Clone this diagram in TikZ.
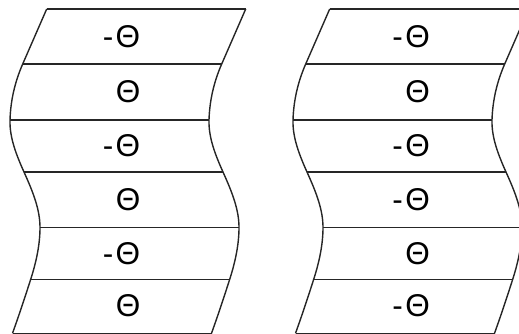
\documentclass[tikz,border=0pt]{standalone}
\usepackage{fontspec}
\setmainfont{Liberation Sans}
\begin{document}
\begin{tikzpicture}[x=1pt,y=-1pt,
  edge/.style={line width=1.4pt, draw=black!85},
  lbl/.style={font=\fontsize{31.5}{31.5}\selectfont, inner sep=0pt, text=black}]
\useasboundingbox (0,0) rectangle (519,333);
\clip (0,0) rectangle (519,333);
\newcommand{\sidecurve}{%
  \draw[edge] (46.7,9) -- (22.7,64)
    .. controls (14.56,82.67) and (10.56,101.3) .. (10,120)
    .. controls (9.48,137.33) and (16.2,154.67) .. (24,172)
    .. controls (32.3,190.43) and (40,208.87) .. (40,227.3)
    .. controls (40,244.6) and (36.25,262) .. (30.7,279.3)
    .. controls (24.94,297.3) and (18.98,315.3) .. (12.5,333.3);}
\foreach \fig/\dx in {A/0, B/283} {
  \begin{scope}[xshift=\dx]
    \foreach \i/\x/\y in {1/46.7/9, 2/22.7/64, 3/10/120, 4/24/172, 5/40/227.3, 6/30.7/279.3, 7/12.5/333.3} {
      \coordinate (\fig L\i) at (\x,\y);
      \coordinate (\fig R\i) at (\x+199,\y);
    }
    \sidecurve
    \begin{scope}[xshift=199]
      \sidecurve
    \end{scope}
    \foreach \i in {1,...,7} {
      \draw[edge] (\fig L\i) -- (\fig R\i);
    }
  \end{scope}
}
\newcommand{\negth}{\llap{-\kern2.5pt}Θ}
\foreach \n/\y/\t in {1/36.5/\negth, 2/92/Θ, 3/146/\negth, 4/199.7/Θ, 5/253.3/\negth, 6/306/Θ} {
  \node[lbl] (a\n) at (128,\y) {\t};
}
\foreach \n/\y/\t in {1/36.5/\negth, 2/92/Θ, 3/146/\negth, 4/199.7/\negth, 5/253.3/Θ, 6/306/\negth} {
  \node[lbl] (b\n) at (417.7,\y) {\t};
}
\end{tikzpicture}
\end{document}
